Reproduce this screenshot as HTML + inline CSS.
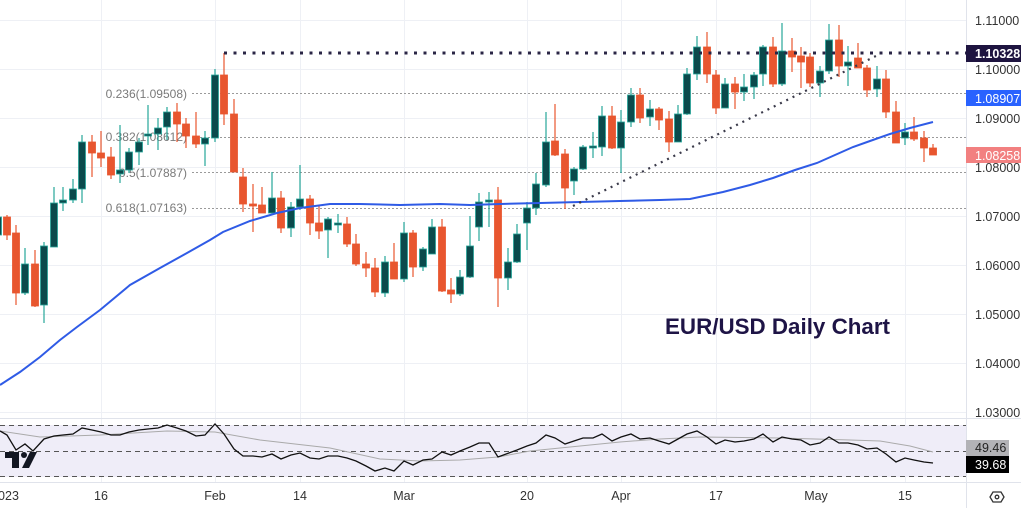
<!DOCTYPE html>
<html><head><meta charset="utf-8">
<style>
html,body{margin:0;padding:0;background:#fff;width:1021px;height:508px;overflow:hidden}
svg{display:block;font-family:"Liberation Sans",sans-serif}
</style></head>
<body>
<svg id="s" width="1021" height="508" viewBox="0 0 1021 508" xmlns="http://www.w3.org/2000/svg">
<rect width="1021" height="508" fill="#fff"/>
<g stroke="#eef0f5" stroke-width="1">
<line x1="0" x2="966" y1="20.5" y2="20.5"/><line x1="0" x2="966" y1="69.5" y2="69.5"/><line x1="0" x2="966" y1="118.5" y2="118.5"/><line x1="0" x2="966" y1="167.5" y2="167.5"/><line x1="0" x2="966" y1="216.5" y2="216.5"/><line x1="0" x2="966" y1="265.5" y2="265.5"/><line x1="0" x2="966" y1="314.5" y2="314.5"/><line x1="0" x2="966" y1="363.5" y2="363.5"/><line x1="0" x2="966" y1="412.5" y2="412.5"/>
<line x1="101.5" x2="101.5" y1="0" y2="482"/><line x1="215.5" x2="215.5" y1="0" y2="482"/><line x1="300.5" x2="300.5" y1="0" y2="482"/><line x1="404.5" x2="404.5" y1="0" y2="482"/><line x1="527.5" x2="527.5" y1="0" y2="482"/><line x1="621.5" x2="621.5" y1="0" y2="482"/><line x1="716.5" x2="716.5" y1="0" y2="482"/><line x1="810.5" x2="810.5" y1="0" y2="482"/><line x1="905.5" x2="905.5" y1="0" y2="482"/>
</g>
<g stroke="#9a9a9a" stroke-width="1" stroke-dasharray="2,2">
<line x1="192" x2="966" y1="93.5" y2="93.5"/><line x1="192" x2="966" y1="137.5" y2="137.5"/><line x1="192" x2="966" y1="172.5" y2="172.5"/><line x1="192" x2="966" y1="208.5" y2="208.5"/>
</g>
<g font-size="12" fill="#7a7a7a" text-anchor="end">
<text x="187" y="98">0.236(1.09508)</text>
<text x="187" y="141">0.382(1.08612)</text>
<text x="187" y="177">0.5(1.07887)</text>
<text x="187" y="212">0.618(1.07163)</text>
</g>
<g id="cd"></g>
<polyline fill="none" stroke="#2f5be6" stroke-width="2" points="0,385 20,372 40,357 60,340 77,327 100,310 130,285 160,268 187,253 210,240 223,232 250,221 277,213 300,208 330,204 360,204 400,205 440,204 470,205 500,204 540,203 580,202 620,201 660,200 690,199 723,192 750,185 773,178 795,170 817,163 835,155 853,147 870,141 890,134 910,128 933,122"/>
<line x1="224" x2="966" y1="53" y2="53" stroke="#2a2545" stroke-width="3" stroke-dasharray="3,6.5"/>
<line x1="573" y1="206" x2="878" y2="55" stroke="#3a3a4a" stroke-width="2.2" stroke-dasharray="2,5"/>
<text x="665" y="334" font-size="22" font-weight="bold" fill="#1e1446" textLength="225" lengthAdjust="spacingAndGlyphs">EUR/USD Daily Chart</text>
<line x1="0" x2="1021" y1="418.5" y2="418.5" stroke="#e0e3eb"/>
<rect x="0" y="425" width="966" height="52" fill="#efedf8"/>
<g stroke="#555" stroke-dasharray="5,4" stroke-width="1">
<line x1="0" x2="966" y1="425.5" y2="425.5"/><line x1="0" x2="966" y1="451.5" y2="451.5"/><line x1="0" x2="966" y1="476.5" y2="476.5"/>
</g>
<polyline fill="none" stroke="#aaa" stroke-width="1" points="0,431 40,437 100,435 167,431 215,432 260,440 330,448 380,459 420,461 460,460 498,457 530,451 570,447 620,442 660,439 700,437 780,438 850,440 880,441 910,446 933,452"/>
<polyline fill="none" stroke="#111" stroke-width="1.3" points="0,431 7,435 16,450 25,444 33,451 44,439 54,436 63,435 73,434 82,428 92,430 101,432 111,435 120,435 129,432 139,430 148,429 158,428 167,425 177,428 186,431 196,436 205,435 215,424 224,434 234,449 243,456 253,456 262,457 272,454 281,459 291,455 300,453 310,458 319,459 328,456 338,456 347,458 356,461 366,466 375,471 385,468 394,471 404,461 413,465 423,460 432,459 442,452 451,455 460,451 470,447 479,443 489,443 498,457 517,450 527,446 536,443 546,435 555,438 565,444 574,441 583,438 593,438 602,434 612,441 621,437 631,434 640,439 650,438 659,441 669,444 678,439 687,434 697,431 707,437 716,444 725,440 735,442 744,441 754,439 763,434 773,442 782,437 792,439 801,440 810,445 820,443 829,437 839,443 848,443 858,445 867,449 877,448 886,454 896,462 905,458 914,460 924,462 933,463"/>
<g fill="#131722"><rect x="5" y="452" width="14" height="6"/><rect x="12" y="452" width="7" height="16"/><circle cx="24" cy="455" r="3"/><polygon points="30,452 37,452 29,468 22,468"/></g>
<line x1="0" x2="1021" y1="482.5" y2="482.5" stroke="#e0e3eb"/>
<line x1="966.5" x2="966.5" y1="0" y2="508" stroke="#e0e3eb"/>
<g font-size="12.5" fill="#333">
<text x="975" y="25">1.11000</text><text x="975" y="74">1.10000</text><text x="975" y="123">1.09000</text><text x="975" y="172">1.08000</text><text x="975" y="221">1.07000</text><text x="975" y="270">1.06000</text><text x="975" y="319">1.05000</text><text x="975" y="368">1.04000</text><text x="975" y="417">1.03000</text>
</g>
<rect x="966" y="45" width="55" height="17" fill="#1e1440"/><text x="975" y="58" font-size="12.5" fill="#fff" font-weight="bold">1.10328</text>
<rect x="966" y="90" width="55" height="16" fill="#2962ff"/><text x="975" y="103" font-size="12.5" fill="#fff">1.08907</text>
<rect x="966" y="147" width="55" height="16" fill="#f28080"/><text x="975" y="160" font-size="12.5" fill="#fff">1.08258</text>
<rect x="966" y="440" width="43" height="16" fill="#b2b2b6"/><text x="975" y="452" font-size="12.5" fill="#222">49.46</text>
<rect x="966" y="456" width="43" height="17" fill="#000"/><text x="975" y="469" font-size="12.5" fill="#fff">39.68</text>
<g font-size="12.5" fill="#333" text-anchor="middle">
<text x="5" y="500">2023</text><text x="101" y="500">16</text><text x="215" y="500">Feb</text><text x="300" y="500">14</text><text x="404" y="500">Mar</text><text x="527" y="500">20</text><text x="621" y="500">Apr</text><text x="716" y="500">17</text><text x="816" y="500">May</text><text x="905" y="500">15</text>
</g>
<g fill="none" stroke="#333" stroke-width="1.3"><polygon points="993,492 1001,492 1004,497 1001,502 993,502 990,497"/><circle cx="997" cy="497" r="1.8"/></g>
</svg>
<script>
var D=[[-2,212,217,235,240,'g'],[7,215,217,235,240,'r'],[16,225,233,293,305,'r'],[25,248,264,293,295,'g'],[35,250,264,306,307,'r'],[44,242,246,305,323,'g'],[54,187,203,247,247,'g'],[63,187,200,203,211,'g'],[73,179,189,200,203,'g'],[82,135,142,189,203,'g'],[92,135,142,153,177,'r'],[101,131,153,158,167,'r'],[111,147,157,175,179,'r'],[120,125,170,174,183,'g'],[129,148,152,170,173,'g'],[139,138,142,152,165,'g'],[148,105,134,136,145,'g'],[158,118,128,134,150,'g'],[167,107,112,127,140,'g'],[177,103,112,124,142,'r'],[186,118,124,136,148,'r'],[196,112,136,144,148,'r'],[205,131,138,144,166,'g'],[215,69,75,138,142,'g'],[224,53,75,114,125,'r'],[234,99,114,172,172,'r'],[243,168,177,204,212,'r'],[253,184,204,206,232,'r'],[262,187,205,213,213,'r'],[272,172,198,213,213,'g'],[281,191,198,228,233,'r'],[291,202,207,228,237,'g'],[300,165,199,207,210,'g'],[310,195,199,223,235,'r'],[319,205,223,231,239,'r'],[328,217,219,230,258,'g'],[338,214,223,225,233,'g'],[347,217,224,244,247,'r'],[356,234,244,264,266,'r'],[366,252,264,268,277,'r'],[375,258,268,292,297,'r'],[385,256,262,293,297,'g'],[394,243,262,279,279,'r'],[404,222,233,279,282,'g'],[413,230,233,267,277,'r'],[423,247,249,267,271,'g'],[432,219,227,254,254,'g'],[442,219,227,291,292,'r'],[451,278,290,294,303,'r'],[460,270,277,294,296,'g'],[470,216,246,277,278,'g'],[479,193,202,227,241,'g'],[489,192,200,202,227,'g'],[498,187,200,278,307,'r'],[508,248,262,278,290,'g'],[517,224,234,262,263,'g'],[527,202,208,223,250,'g'],[536,173,184,208,215,'g'],[546,112,142,185,187,'g'],[555,104,141,155,156,'r'],[565,149,154,188,209,'r'],[574,167,169,181,195,'g'],[583,145,147,169,170,'g'],[593,132,146,148,158,'g'],[602,106,116,147,156,'g'],[612,106,116,148,149,'r'],[621,110,122,148,173,'g'],[631,88,95,122,127,'g'],[640,88,95,118,123,'r'],[650,100,109,117,126,'g'],[659,107,109,120,130,'r'],[669,111,119,142,152,'r'],[678,105,114,142,142,'g'],[687,68,74,114,115,'g'],[697,36,47,74,80,'g'],[707,32,47,74,83,'r'],[716,70,75,108,114,'r'],[725,78,84,108,108,'g'],[735,77,84,92,109,'r'],[744,74,87,92,101,'g'],[754,72,75,87,99,'g'],[763,45,47,74,86,'g'],[773,37,47,84,87,'r'],[782,23,51,84,86,'g'],[792,38,51,57,72,'r'],[801,47,56,62,88,'r'],[810,53,57,83,87,'r'],[820,66,71,83,97,'g'],[829,24,40,71,74,'g'],[839,25,40,66,77,'r'],[848,46,62,66,86,'g'],[858,43,58,68,68,'r'],[867,65,68,90,97,'r'],[877,66,79,89,97,'g'],[886,70,79,112,118,'r'],[896,101,112,143,143,'r'],[905,123,132,138,145,'g'],[914,117,132,139,141,'r'],[924,131,138,148,162,'r'],[933,144,148,155,155,'r']];
var g=document.getElementById('cd'),h='';
D.forEach(function(c){var w=c[5]=='g'?'#26a69a':'#e8562f',b=c[5]=='g'?'#0b4a4c':'#e8562f';
h+='<line x1="'+c[0]+'" x2="'+c[0]+'" y1="'+c[1]+'" y2="'+c[4]+'" stroke="'+w+'" stroke-width="1.2"/>';
var t=c[2],hh=Math.max(2,c[3]-c[2]);
h+='<rect x="'+(c[0]-3.5)+'" y="'+t+'" width="7" height="'+hh+'" fill="'+b+'" stroke="'+w+'" stroke-width="0.8"/>';});
g.innerHTML=h;
</script>
</body></html>
